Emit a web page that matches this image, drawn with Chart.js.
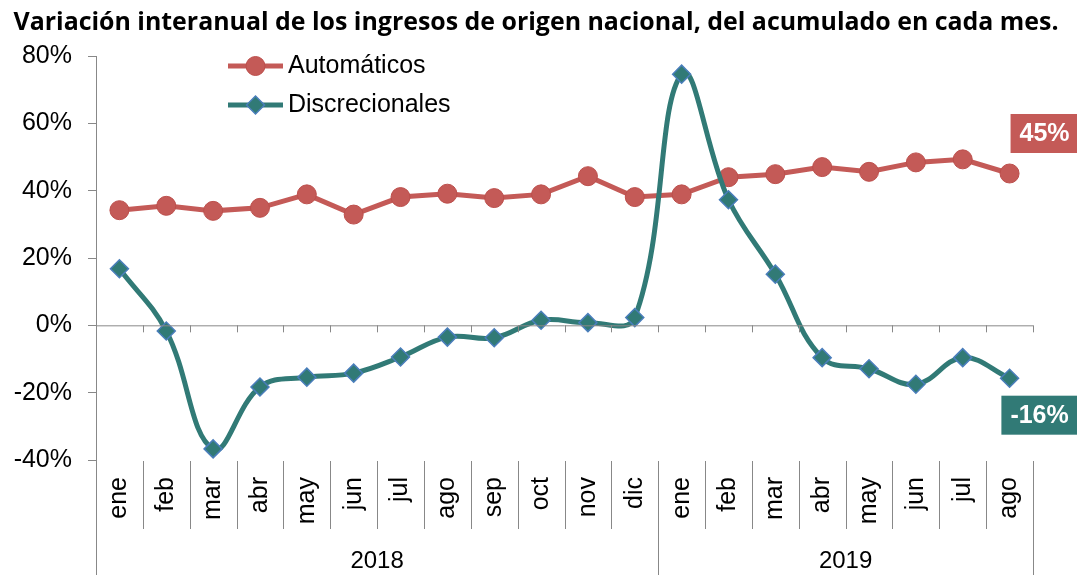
<!DOCTYPE html>
<html>
<head>
<meta charset="utf-8">
<script src="https://cdn.jsdelivr.net/npm/chart.js@4/dist/chart.umd.min.js"></script>
<style>
  html, body { margin: 0; padding: 0; background: #fff; }
  #caja { width: 1077px; height: 575px; }
</style>
</head>
<body>
<div id="caja"><canvas id="grafico"></canvas></div>
<script>
const titulo = 'Variación interanual de los ingresos de origen nacional, del acumulado en cada mes.';
const meses = ['ene', 'feb', 'mar', 'abr', 'may', 'jun', 'jul', 'ago', 'sep', 'oct', 'nov', 'dic',
               'ene', 'feb', 'mar', 'abr', 'may', 'jun', 'jul', 'ago'];
const anios = ['2018', '2019'];
const mesesPorAnio = [12, 8];
const automaticos = [34.2, 35.5, 34.0, 34.9, 38.9, 32.9, 38.1, 39.1, 37.8, 38.9, 44.3, 38.1,
                     38.9, 44.0, 44.9, 47.0, 45.6, 48.4, 49.3, 45.1];
const discrecionales = [16.8, -1.7, -36.7, -18.3, -15.4, -14.2, -9.4, -3.5, -3.7, 1.5, 0.8, 2.3,
                        74.6, 37.3, 15.2, -9.6, -12.9, -17.5, -9.6, -15.7];
const yMin = -40, yMax = 80, yPaso = 20;

const rojo = '#C45A57';
const verde = '#317A76';
const azulBorde = '#4A7EBB';
const gris = '#888888';
const fuente = "'Liberation Sans', Arial, sans-serif";

const ctx = document.getElementById('grafico').getContext('2d');

// ejes extra: linea del 0, separadores de meses/años, años, título, leyenda y etiquetas finales
const extras = {
    id: 'extras',
    afterDatasetsDraw(chart) {
        const c = chart.ctx;
        const x = chart.scales.x;
        const y = chart.scales.y;
        const area = chart.chartArea;
        const paso = x.getPixelForValue(1) - x.getPixelForValue(0);
        const y0 = y.getPixelForValue(0);

        c.save();
        // linea del 0 con marcas
        c.strokeStyle = gris;
        c.lineWidth = 1;
        c.beginPath();
        c.moveTo(area.left, y0 + 0.5);
        c.lineTo(area.right, y0 + 0.5);
        for (let i = 0; i <= meses.length; i++) {
            const bx = Math.round(x.getPixelForValue(i) - paso / 2) + 0.5;
            c.moveTo(bx, y0);
            c.lineTo(bx, y0 + 7);
        }
        c.stroke();

        // separadores de categorías
        let limites = [0];
        let acum = 0;
        mesesPorAnio.forEach(n => { acum += n; limites.push(acum); });
        c.beginPath();
        for (let i = 0; i <= meses.length; i++) {
            const bx = Math.round(x.getPixelForValue(i) - paso / 2) + 0.5;
            const largo = limites.includes(i) ? chart.height : area.bottom + 69;
            c.moveTo(bx, area.bottom + 1);
            c.lineTo(bx, largo);
        }
        c.stroke();

        // años
        c.fillStyle = '#000';
        c.font = '24px ' + fuente;
        c.textAlign = 'center';
        c.textBaseline = 'middle';
        for (let a = 0; a < anios.length; a++) {
            const x1 = x.getPixelForValue(limites[a]) - paso / 2;
            const x2 = x.getPixelForValue(limites[a + 1] - 1) + paso / 2;
            c.fillText(anios[a], (x1 + x2) / 2, area.bottom + 101);
        }

        // título
        let tam = 22;
        c.font = 'bold ' + tam + "px 'Open Sans', sans-serif";
        const ancho = c.measureText(titulo).width;
        tam = tam * 1045 / ancho;
        c.font = 'bold ' + tam.toFixed(2) + "px 'Open Sans', sans-serif";
        c.textAlign = 'center';
        c.textBaseline = 'alphabetic';
        c.fillText(titulo, 536, 30);

        // leyenda
        const filas = [66, 105];
        chart.data.datasets.forEach((ds, i) => {
            const ly = filas[i];
            c.strokeStyle = ds.borderColor;
            c.lineWidth = 5;
            c.beginPath();
            c.moveTo(228, ly);
            c.lineTo(283, ly);
            c.stroke();
            c.fillStyle = ds.pointBackgroundColor;
            c.strokeStyle = ds.pointBorderColor;
            c.lineWidth = ds.pointBorderWidth;
            c.beginPath();
            Chart.helpers.drawPoint(c, {
                pointStyle: ds.pointStyle, radius: ds.pointRadius, borderWidth: ds.pointBorderWidth
            }, 255.5, ly);
            c.fillStyle = '#000';
            c.font = '25px ' + fuente;
            c.textAlign = 'left';
            c.textBaseline = 'middle';
            c.fillText(ds.label, 288, ly);
        });

        // etiquetas del último valor
        const ajustes = [{ dx: 35, dy: -40 }, { dx: 30, dy: 37 }];
        chart.data.datasets.forEach((ds, i) => {
            const meta = chart.getDatasetMeta(i);
            const ult = meta.data[meta.data.length - 1];
            const valor = ds.data[ds.data.length - 1];
            const texto = Math.round(valor) + '%';
            c.font = 'bold 25px ' + fuente;
            const w = c.measureText(texto).width + 18;
            const h = 39;
            const cx = ult.x + ajustes[i].dx;
            const cy = ult.y + ajustes[i].dy;
            c.fillStyle = ds.borderColor;
            c.fillRect(cx - w / 2, cy - h / 2, w, h);
            c.fillStyle = '#fff';
            c.textAlign = 'center';
            c.textBaseline = 'middle';
            c.fillText(texto, cx, cy + 1);
        });
        c.restore();
    }
};

const grafico = new Chart(ctx, {
    type: 'line',
    data: {
        labels: meses,
        datasets: [
            {
                label: 'Automáticos',
                data: automaticos,
                borderColor: rojo,
                borderWidth: 5,
                tension: 0,
                pointStyle: 'circle',
                pointRadius: 9.5,
                pointBackgroundColor: rojo,
                pointBorderColor: '#BC4F4C',
                pointBorderWidth: 1,
                order: 2
            },
            {
                label: 'Discrecionales',
                data: discrecionales,
                borderColor: verde,
                borderWidth: 5,
                tension: 0.4,
                pointStyle: 'rectRot',
                pointRadius: 9,
                pointBackgroundColor: verde,
                pointBorderColor: azulBorde,
                pointBorderWidth: 1.5,
                order: 1
            }
        ]
    },
    options: {
        responsive: true,
        maintainAspectRatio: false,
        animation: false,
        layout: { padding: { top: 56, right: 44, bottom: 0, left: 0 } },
        plugins: {
            legend: { display: false },
            title: { display: false },
            tooltip: { enabled: false }
        },
        scales: {
            x: {
                offset: true,
                grid: { display: false, drawTicks: false },
                border: { display: false },
                ticks: {
                    autoSkip: false,
                    minRotation: 90,
                    maxRotation: 90,
                    padding: 17,
                    color: '#000',
                    font: { size: 25, family: fuente }
                },
                afterFit: function(scale) { scale.height = 115; }
            },
            y: {
                min: yMin,
                max: yMax,
                grid: { drawOnChartArea: false, drawTicks: true, tickLength: 8, color: gris },
                border: { display: true, color: gris, width: 1 },
                ticks: {
                    stepSize: yPaso,
                    padding: 16,
                    color: '#000',
                    font: { size: 25, family: fuente },
                    callback: function(v) { return v + '%'; }
                },
                afterFit: function(scale) { scale.width = 96; }
            }
        }
    },
    plugins: [extras]
});
</script>
</body>
</html>
